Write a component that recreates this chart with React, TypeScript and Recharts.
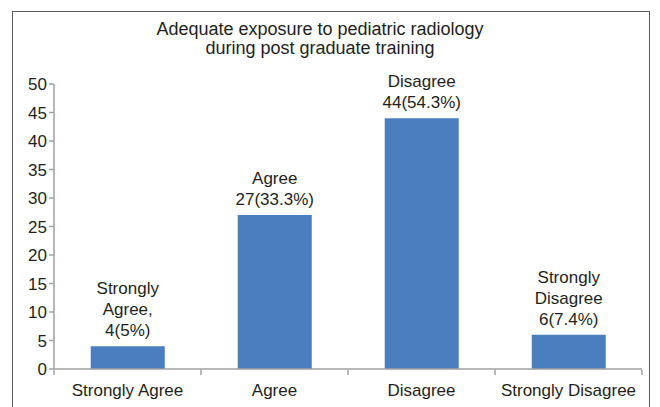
import { BarChart, Bar, XAxis, YAxis, LabelList } from 'recharts';

const categories = ['Strongly Agree', 'Agree', 'Disagree', 'Strongly Disagree'];
const counts = [4, 27, 44, 6];
const barLabels = [
    ['Strongly', 'Agree,', '4(5%)'],
    ['Agree', '27(33.3%)'],
    ['Disagree', '44(54.3%)'],
    ['Strongly', 'Disagree', '6(7.4%)'],
];
const yTicks = [0, 5, 10, 15, 20, 25, 30, 35, 40, 45, 50];
const titleLines = ['Adequate exposure to pediatric radiology', 'during post graduate training'];

const FONT = '"Liberation Sans", Arial, sans-serif';
const TEXT = '#231f20';
const AXIS = '#a0a0a0';

const data = categories.map((name, i) => ({ name, value: counts[i], idx: i }));

// tick mark sits between categories, label in the middle
function CategoryTick(props: any) {
    const { x, y, payload, index, visibleTicksCount } = props;
    const half = payload.offset || 0;
    const axisY = y - 7;
    return (
        <g>
            <line x1={x - half} x2={x - half} y1={axisY} y2={axisY + 5} stroke={AXIS} strokeWidth={1.5} />
            {index === visibleTicksCount - 1 && (
                <line x1={x + half} x2={x + half} y1={axisY} y2={axisY + 5} stroke={AXIS} strokeWidth={1.5} />
            )}
            <text x={x} y={axisY + 26} textAnchor="middle" fill={TEXT} fontSize={17} fontFamily={FONT}>
                {payload.value}
            </text>
        </g>
    );
}

function StackedLabel(props: any) {
    const { x, y, width, index } = props;
    const lines = barLabels[index] || [];
    const cx = x + width / 2;
    return (
        <text textAnchor="middle" fill={TEXT} fontSize={17} fontFamily={FONT}>
            {lines.map((line, i) => (
                <tspan key={i} x={cx} y={y - 10 - (lines.length - 1 - i) * 21}>
                    {line}
                </tspan>
            ))}
        </text>
    );
}

export default function App() {
    return (
        <div style={{ position: 'absolute', left: 0, top: 0, width: 660, height: 407, background: '#fff', overflow: 'hidden' }}>
            {/* outer frame */}
            <div
                style={{
                    position: 'absolute',
                    left: 12,
                    top: 11,
                    width: 636,
                    height: 420,
                    borderLeft: '1.5px solid #5a5a5a',
                    borderTop: '1.5px solid #5a5a5a',
                    borderRight: '1.5px solid #5a5a5a',
                }}
            />
            <div
                style={{
                    position: 'absolute',
                    left: 0,
                    top: 20,
                    width: 640,
                    textAlign: 'center',
                    fontFamily: FONT,
                    fontSize: 18,
                    lineHeight: '19px',
                    color: TEXT,
                }}
            >
                {titleLines.map((t) => (
                    <div key={t}>{t}</div>
                ))}
            </div>
            <div style={{ position: 'absolute', left: 0, top: 0 }}>
                <BarChart width={660} height={407} data={data} margin={{ top: 84, right: 18, bottom: 8, left: 0 }} barCategoryGap="25%">
                    <XAxis
                        dataKey="name"
                        stroke={AXIS}
                        strokeWidth={1.5}
                        tickLine={false}
                        height={30}
                        interval={0}
                        tick={<CategoryTick />}
                    />
                    <YAxis
                        domain={[0, 50]}
                        ticks={yTicks}
                        width={54}
                        stroke={AXIS}
                        strokeWidth={1.5}
                        tickSize={5}
                        tick={{ fill: TEXT, fontSize: 17, fontFamily: FONT }}
                        interval={0}
                    />
                    <Bar dataKey="value" fill="#4a7ebf" isAnimationActive={false}>
                        <LabelList dataKey="value" content={<StackedLabel />} />
                    </Bar>
                </BarChart>
            </div>
        </div>
    );
}
